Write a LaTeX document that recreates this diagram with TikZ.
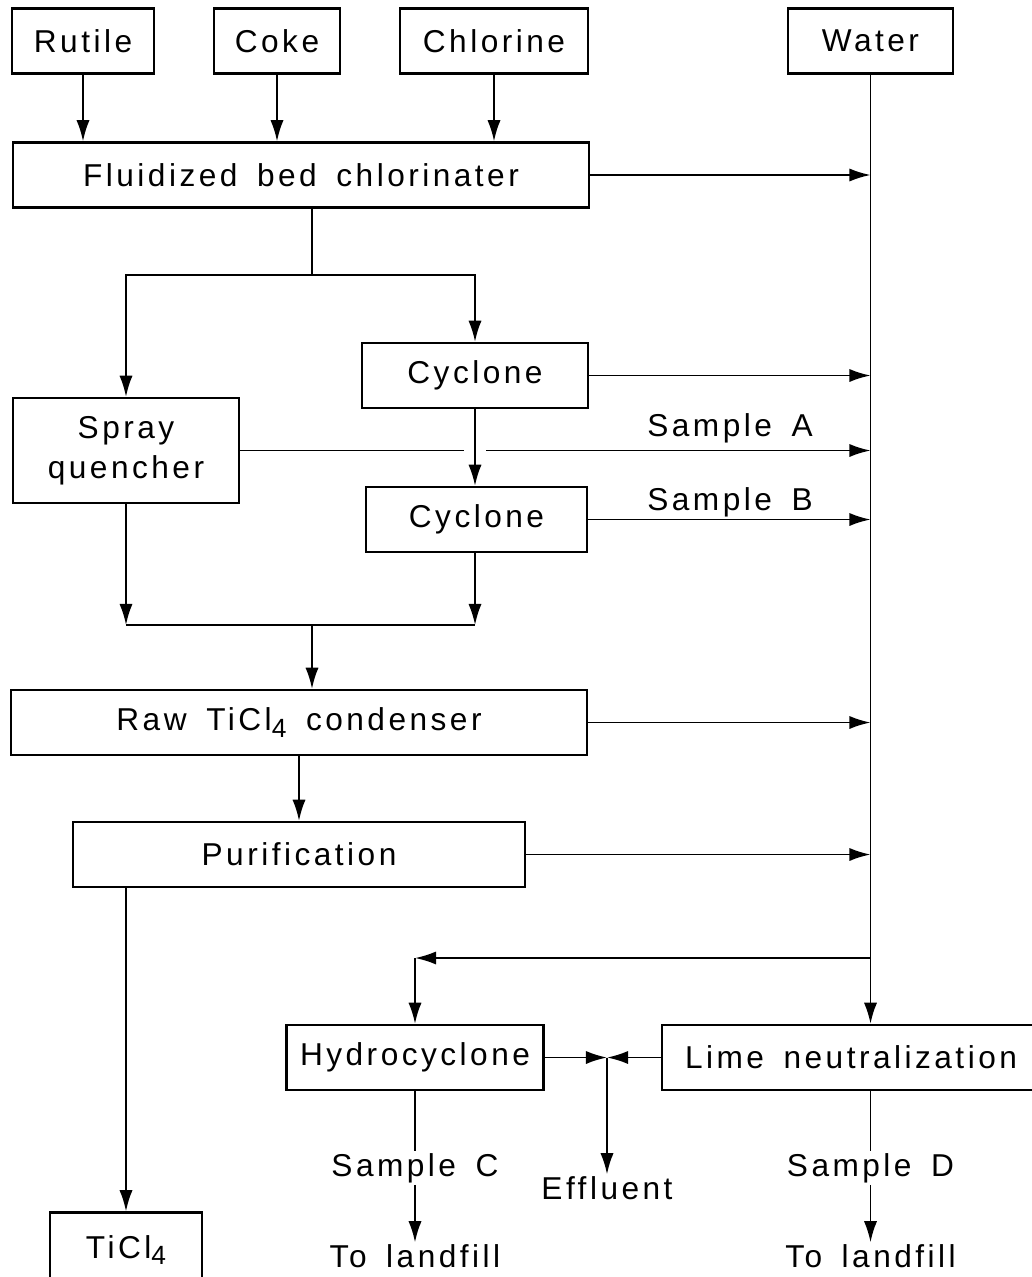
\documentclass[tikz,border=0pt]{standalone}
\usepackage{fontspec}
\setmainfont{Liberation Sans}[LetterSpace=11, WordSpace=1.6]
\usepackage{tikz}
\usetikzlibrary{calc, arrows.meta}

\newcommand{\four}{\raisebox{-0.4ex}{\fontsize{15}{15}\selectfont 4}}

\tikzset{
  box/.style={draw=black, rectangle, line width=1.4pt, minimum height=1.3cm, inner sep=0pt, align=center},
  flow/.style={line width=1.1pt, ->},
  lbl/.style={inner sep=1pt}
}

\begin{document}
\begin{tikzpicture}[x=0.02cm, y=-0.02cm, >={Latex[length=12pt,width=7.5pt]},
    font=\fontsize{18}{23}\selectfont]
			\useasboundingbox (0,0) rectangle (1031,1277);

			% feeds
			\node (R) [box, minimum width=2.84cm] at (83,41){Rutile};
			\node (K) [box, minimum width=2.52cm] at (277,41){Coke};
			\node (Cl) [box, minimum width=3.76cm] at (494,41){Chlorine};
			\node (W) [box, minimum width=3.3cm] at (870.5,41){Water};

			\node (F) [box, minimum width=11.52cm] at (301,175){Fluidized bed chlorinater};

			\draw[flow](R)--(R |- F.north);
			\draw[flow](K)--(K |- F.north);
			\draw[flow](Cl)--(Cl |- F.north);
			\draw[flow](F.east)--(F.east -| W.south);

			% split to quencher and cyclones
			\node (Cy1) [box, minimum width=4.52cm] at (475,375.5){Cyclone};
			\node (S) [box, minimum width=4.52cm, minimum height=2.1cm] at (126,450.5){Spray\\quencher};
			\node (Cy2) [box, minimum width=4.42cm] at (476.5,519.5){Cyclone};

			\coordinate (j1) at (312,275);
			\draw[line width=1.1pt](F.south -| j1)--(j1);
			\draw[flow](j1)-|(S.north);
			\draw[flow](j1)-|(Cy1.north);
			\draw[flow](Cy1.east)--(Cy1.east -| W.south);
			\draw[flow](Cy1.south)--(Cy1.south |- Cy2.north);

			\draw[line width=1.1pt](S.east)--($(S.east -| Cy1.south)+(-11,0)$);
			\draw[flow]($(S.east -| Cy1.south)+(11,0)$)--(S.east -| W.south);
			\node (sA) [lbl] at (730,428){Sample A};
			\draw[flow](Cy2.east)--(Cy2.east -| W.south);
			\node (sB) [lbl] at (730,502){Sample B};

			% condenser and purification
			\node (RC) [box, minimum width=11.52cm] at (299,722.5){Raw TiCl\four{} condenser};
			\node (P) [box, minimum width=9.04cm] at (299,854.5){Purification};
			\node (T) [box, minimum width=3.04cm, minimum height=1.5cm] at (126,1250){TiCl\four};

			\coordinate (j2) at (312,625);
			\draw[flow](S.south)--(S.south |- j2);
			\draw[flow](Cy1.south |- Cy2.south)--(Cy1.south |- j2);
			\draw[line width=1.1pt](S.south |- j2)--(Cy1.south |- j2);
			\draw[flow](j2)--(j2 |- RC.north);
			\draw[flow](RC.south)--(RC.south |- P.north);
			\draw[flow](RC.east)--(RC.east -| W.south);
			\draw[flow](P.east)--(P.east -| W.south);
			\draw[flow](P.south -| T)--(T.north);

			% water treatment
			\node (H) [box, minimum width=5.14cm] at (415,1057.5){Hydrocyclone};
			\node (L) [box, minimum width=7.56cm] at (851,1057.5){Lime neutralization};

			\coordinate (j3) at (W.south |- 0,958);
			\coordinate (j4) at (H.north |- j3);
			\draw[flow](W.south)--(W.south |- L.north);
			\draw[flow](j3)--(j4);
			\draw[flow](j4)--(H.north);

			\coordinate (E) at (607,1057.5);
			\node (Ef) [lbl] at (607,1188){Effluent};
			\draw[flow](H.east)--(E);
			\draw[flow](L.west)--(E);
			\draw[flow](E)--(Ef.north);

			\node (sC) [lbl] at (H.south |- 0,1168){Sample C};
			\node (lC) [lbl] at (H.south |- 0,1256){To landfill};
			\draw[line width=1.1pt](H.south)--(sC.north);
			\draw[flow](sC.south)--(lC.north);

			\node (sD) [lbl] at (W.south |- 0,1168){Sample D};
			\node (lD) [lbl] at (W.south |- 0,1256){To landfill};
			\draw[line width=1.1pt](W.south |- L.south)--(sD.north);
			\draw[flow](sD.south)--(lD.north);
		\end{tikzpicture}
\end{document}
